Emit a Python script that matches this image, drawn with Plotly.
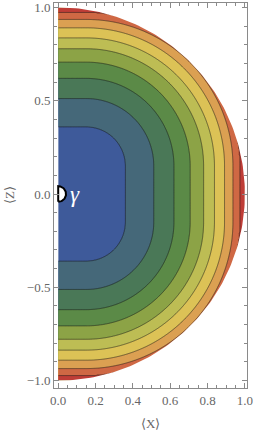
import numpy as np
import plotly.graph_objects as go

# ---- data ----
contour_levels = [0.36, 0.512, 0.62, 0.707, 0.779, 0.837, 0.891, 0.936, 0.972]
band_colors = ["#3e5a9a", "#456879", "#4a7857", "#5b8a47", "#8ca346",
               "#bdbd54", "#dcc256", "#dba052", "#cf6844", "#bf3d37"]
core_half_width = 0.15          # flat part of the rounded-square contours
x_ticks = [0.0, 0.2, 0.4, 0.6, 0.8, 1.0]
x_ticklabels = ["0.0", "0.2", "0.4", "0.6", "0.8", "1.0"]
z_ticks = [-1.0, -0.5, 0.0, 0.5, 1.0]
z_ticklabels = ["\u22121.0", "\u22120.5", "0.0", "0.5", "1.0"]
gamma_point = [0.0, 0.0]
gamma_radius = 0.042
gamma_label = "<i>\u03b3</i>"
x_title = "\u27e8X\u27e9"
z_title = "\u27e8Z\u27e9"

# ---- field on the half disk ----
xg = np.linspace(0.0, 1.0, 301)
zg = np.linspace(-1.0, 1.0, 601)
X, Z = np.meshgrid(xg, zg)
s0 = core_half_width
dx = np.clip(X - s0, 0, None)
dz = np.clip(np.abs(Z) - s0, 0, None)
f = np.where((dx > 0) | (dz > 0), s0 + np.hypot(dx, dz), np.maximum(X, np.abs(Z)))
idx = list(range(len(contour_levels) + 2))
g = np.interp(f, [0.0] + contour_levels + [3.0], idx)

n = len(band_colors) - 1
colorscale = [[i / n, c] for i, c in enumerate(band_colors)]

fig = go.Figure()
fig.add_trace(go.Contour(
    x=xg, y=zg, z=g,
    contours=dict(start=1, end=len(contour_levels), size=1, coloring="fill"),
    colorscale=colorscale, showscale=False,
    line=dict(color="rgba(25,25,25,0.6)", width=0.9, smoothing=1),
    hoverinfo="skip"))

# white mask outside the unit circle
th = np.linspace(np.pi / 2, -np.pi / 2, 200)
mx = np.concatenate([np.cos(th), [0.0, 1.2, 1.2, 0.0]])
mz = np.concatenate([np.sin(th), [-1.2, -1.2, 1.2, 1.2]])
fig.add_trace(go.Scatter(x=mx, y=mz, mode="lines", fill="toself",
                         fillcolor="white", line=dict(width=0),
                         hoverinfo="skip", showlegend=False))

# gamma marker (half disk)
ph = np.linspace(-np.pi / 2, np.pi / 2, 60)
gx = gamma_point[0] + gamma_radius * np.cos(ph)
gz = gamma_point[1] + gamma_radius * np.sin(ph)
fig.add_trace(go.Scatter(x=np.append(gx, gx[0]), y=np.append(gz, gz[0]),
                         mode="lines", fill="toself", fillcolor="white",
                         line=dict(color="black", width=2),
                         hoverinfo="skip", showlegend=False))

fig.add_annotation(x=gamma_point[0] + 0.05, y=gamma_point[1] - 0.005,
                   text=gamma_label, showarrow=False, xanchor="left",
                   yanchor="middle",
                   font=dict(family="Liberation Serif, DejaVu Serif", size=23,
                             color="white"))

tickfont = dict(family="Liberation Serif", size=13, color="#666666")
frame = "#8a8a8a"
axis_common = dict(showline=True, linecolor=frame, linewidth=1, mirror="ticks",
                   ticks="inside", ticklen=5, tickcolor=frame, tickwidth=1,
                   showgrid=False, zeroline=False, tickfont=tickfont,
                   automargin=False, ticklabeloverflow="allow")

fig.update_xaxes(range=[-0.0225, 1.0112], tickmode="array", tickvals=x_ticks,
                 ticktext=x_ticklabels,
                 minor=dict(dtick=0.05, tick0=0, ticks="inside", ticklen=3,
                            tickcolor=frame, showgrid=False),
                 **axis_common)
fig.update_yaxes(range=[-1.040, 1.024], tickmode="array", tickvals=z_ticks,
                 ticktext=z_ticklabels,
                 minor=dict(dtick=0.1, tick0=0, ticks="inside", ticklen=3,
                            tickcolor=frame, showgrid=False),
                 **axis_common)

fig.add_annotation(xref="paper", yref="paper", x=0.5, y=-0.092,
                   text=x_title, showarrow=False, xanchor="center",
                   yanchor="middle",
                   font=dict(family="Liberation Serif", size=13, color="#666666"))
fig.add_annotation(xref="paper", yref="paper", x=-0.23, y=0.5,
                   text=z_title, showarrow=False, textangle=-90,
                   xanchor="center", yanchor="middle",
                   font=dict(family="Liberation Serif", size=13, color="#666666"))

fig.update_layout(width=253, height=432,
                  margin=dict(l=54, r=6, t=3, b=44, autoexpand=False),
                  plot_bgcolor="white", paper_bgcolor="white",
                  showlegend=False)

fig.write_html("out.html",
               config={"displayModeBar": False},
               post_script="document.body.style.margin='0px';"
                           "document.body.style.padding='0px';")
